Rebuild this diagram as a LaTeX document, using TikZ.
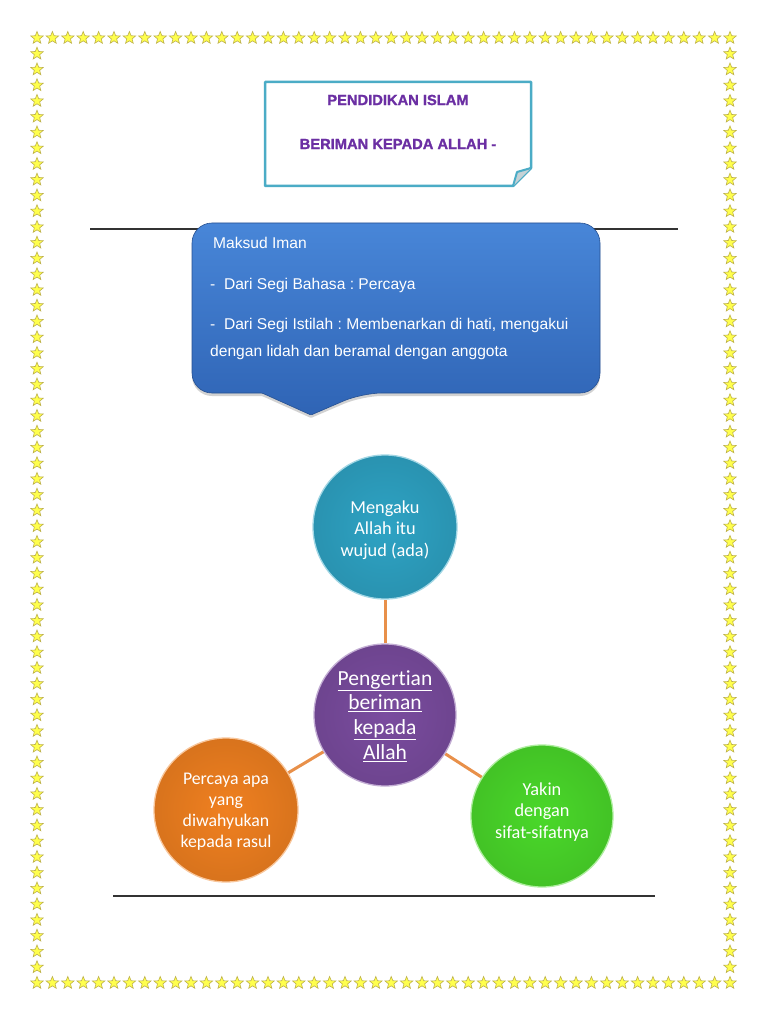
\documentclass[tikz,border=0pt]{standalone}
\usepackage{fontspec}
\setmainfont{Liberation Sans}
\newfontfamily\calib[Ligatures=NoCommon]{Carlito}
\newfontfamily\heavy[FakeBold=1.3]{Liberation Sans Bold}
\usetikzlibrary{shapes.geometric,backgrounds,shadows}
\definecolor{tealc}{HTML}{2EA3C4}
\definecolor{purplec}{HTML}{7A4C9F}
\definecolor{greenc}{HTML}{4AD82A}
\definecolor{orangec}{HTML}{F08020}
\definecolor{linkc}{HTML}{E8904A}
\definecolor{calloutTop}{HTML}{4886D8}
\definecolor{calloutBot}{HTML}{2F64B5}
\definecolor{titleborder}{HTML}{4BACC6}
\definecolor{titletext}{HTML}{6B2FA3}
\definecolor{starfill}{HTML}{FFFF4D}
\definecolor{stardraw}{HTML}{BDB04A}
\tikzset{
  starmark/.style={star, star points=5, star point ratio=2.3, minimum size=13pt, inner sep=0pt, fill=starfill, draw=stardraw, line width=0.6pt},
  ballnode/.style={circle, minimum size=#1, inner sep=0pt, line width=1.3pt},
  balltext/.style={align=center, text=white, inner sep=0pt, font=\calib\fontsize{18.3}{21.5}\selectfont},
  linkline/.style={draw=linkc, line width=3pt},
  rule/.style={draw=black!80, line width=1.2pt},
  calltext/.style={anchor=base west, text=white, font=\fontsize{15.6}{18}\selectfont, inner sep=0pt},
  titlefont/.style={text=titletext, font=\heavy\fontsize{14.7}{17}\selectfont, inner sep=0pt}
}
\begin{document}
\frenchspacing
\begin{tikzpicture}[x=1pt,y=-1pt]
\useasboundingbox (0,0) rectangle (768,1024);
% star border
\foreach \i in {0,...,45} {
  \node[starmark] (st\i) at ({37+\i*15.4},38) {};
  \node[starmark] (sb\i) at ({37+\i*15.4},983) {};
}
\foreach \j in {1,...,59} {
  \node[starmark] (sl\j) at (37,{38+\j*15.75}) {};
  \node[starmark] (sr\j) at (730,{38+\j*15.75}) {};
}
% title box
\coordinate (tA) at (265,82);
\coordinate (tB) at (531,82);
\coordinate (tC) at (531,168);
\coordinate (tD) at (513,186);
\coordinate (tE) at (265,186);
\coordinate (tF) at (517,172);
\draw[titleborder, line width=2.5pt, fill=white, line join=round] (tA) -- (tB) -- (tC) -- (tD) -- (tE) -- cycle;
\draw[titleborder, line width=2pt, fill=titleborder!35!gray!40, line join=round] (tD) -- (tF) -- (tC);
\node[titlefont] (title1) at (398,100) {PENDIDIKAN ISLAM};
\node[titlefont] (title2) at (398,144) {BERIMAN KEPADA ALLAH -};
% rules
\coordinate (r1a) at (90,229);
\coordinate (r1b) at (678,229);
\draw[rule] (r1a) -- (r1b);
\coordinate (r2a) at (113,896);
\coordinate (r2b) at (655,896);
\draw[rule] (r2a) -- (r2b);
% callout
\path[drop shadow={shadow xshift=0pt, shadow yshift=-3pt, opacity=0.35}, top color=calloutTop, bottom color=calloutBot, draw=calloutBot!80!black, line width=0.6pt, rounded corners=20pt]
  (192,300) -- (192,223) -- (600,223) -- (600,393) -- (362,393) [rounded corners=1pt] -- (311,415) -- (262,393) [rounded corners=20pt] -- (192,393) -- cycle;
\node[calltext] (maksud) at (213,248) {Maksud Iman};
\node[calltext] (bahasa) at (210,289) {-\ \ Dari Segi Bahasa : Percaya};
\node[calltext] (istilah1) at (210,329) {-\ \ Dari Segi Istilah : Membenarkan di hati, mengakui};
\node[calltext] (istilah2) at (210,356) {dengan lidah dan beramal dengan anggota};
% circles
\node[ballnode=144pt, shading=radial, inner color=tealc, outer color=tealc!90!black, draw=tealc!45!white] (wujud) at (385,527) {};
\node[ballnode=142pt, shading=radial, inner color=purplec, outer color=purplec!90!black, draw=purplec!45!white] (centre) at (385,715) {};
\node[ballnode=142pt, shading=radial, inner color=greenc, outer color=greenc!90!black, draw=greenc!45!white] (sifat) at (542,816) {};
\node[ballnode=144pt, shading=radial, inner color=orangec, outer color=orangec!90!black, draw=orangec!45!white] (rasul) at (226,810) {};
\node[balltext] (wujudT) at (385,530) {Mengaku\\Allah itu\\wujud (ada)};
\node[balltext, font=\calib\fontsize{21.5}{24.8}\selectfont] (centreT) at (385,716) {\underline{Pengertian}\\\underline{beriman}\\\underline{kepada}\\\underline{Allah}};
\node[balltext] (sifatT) at (542,812) {Yakin\\dengan\\sifat-sifatnya};
\node[balltext, font=\calib\fontsize{17.8}{21}\selectfont] (rasulT) at (226,812) {Percaya apa\\yang\\diwahyukan\\kepada rasul};
\begin{pgfonlayer}{background}
\fill[white] (0,0) rectangle (768,1024);
\draw[linkline] (centre) -- (wujud);
\draw[linkline] (centre) -- (sifat);
\draw[linkline] (centre) -- (rasul);
\end{pgfonlayer}
\end{tikzpicture}
\end{document}
